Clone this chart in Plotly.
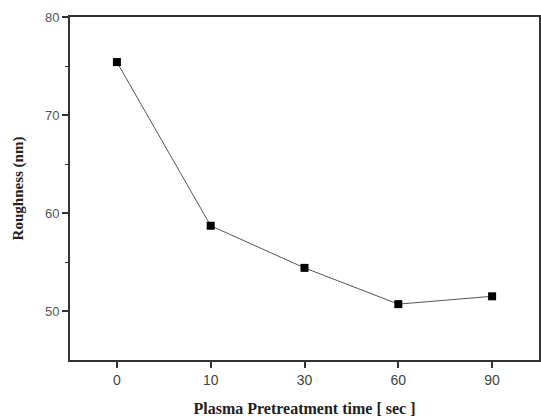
import plotly.graph_objects as go

times = ["0", "10", "30", "60", "90"]
roughness = [75.4, 58.7, 54.4, 50.7, 51.5]

fig = go.Figure()
fig.add_trace(go.Scatter(
    x=times, y=roughness, mode="lines+markers",
    line=dict(color="#555555", width=1),
    marker=dict(symbol="square", size=8, color="black"),
    showlegend=False,
))
fig.update_layout(
    width=541, height=418,
    margin=dict(l=70, r=2, t=17, b=58, autoexpand=False),
    paper_bgcolor="white", plot_bgcolor="white",
)
fig.update_xaxes(
    type="category", range=[-0.5, 4.5], automargin=False,
    showline=True, linecolor="#333333", linewidth=2, mirror=True,
    ticks="outside", ticklen=6, tickwidth=2, tickcolor="#333333",
    showgrid=False, zeroline=False,
    tickfont=dict(family="Liberation Sans, Arial", size=14, color="#444444"),
    title=dict(text="<b>Plasma Pretreatment time [ sec ]</b>",
               font=dict(family="Liberation Serif, Times New Roman", size=16, color="#222222"),
               standoff=16),
)
fig.update_yaxes(
    range=[45, 80], tickvals=[50, 60, 70, 80], automargin=False,
    showline=True, linecolor="#333333", linewidth=2, mirror=True,
    ticks="outside", ticklen=6, tickwidth=2, tickcolor="#333333",
    minor=dict(tickvals=[55, 65, 75], ticks="outside", ticklen=3, tickwidth=1, tickcolor="#333333"),
    showgrid=False, zeroline=False,
    tickfont=dict(family="Liberation Sans, Arial", size=13, color="#555555"),
    title=dict(text="<b>Roughness (nm)</b>",
               font=dict(family="Liberation Serif, Times New Roman", size=15, color="#222222"),
               standoff=18),
)
fig.write_html("out.html", config={"displayModeBar": False},
               post_script="document.body.style.margin='0';document.body.style.overflow='hidden';")
